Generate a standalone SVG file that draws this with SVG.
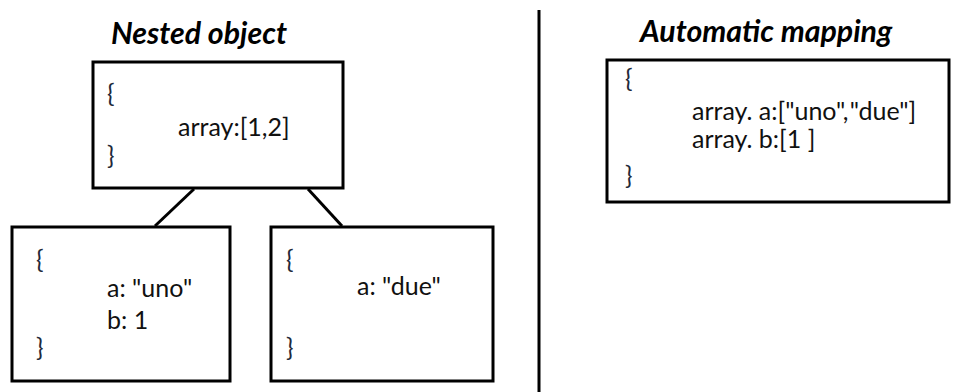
<svg xmlns="http://www.w3.org/2000/svg" width="954" height="392" viewBox="0 0 954 392">
  <style>
    .box { fill: #fff; stroke: #000; stroke-width: 3; }
    .edge { stroke: #000; stroke-width: 3; fill: none; }
    .title { font-family: Lato, "Open Sans", sans-serif; font-weight: bold; font-style: italic; font-size: 30.3px; fill: #000; }
    .code { font-family: Lato, "Open Sans", sans-serif; font-size: 25px; fill: #111; }
    .brace { font-family: Lato, "Open Sans", sans-serif; font-size: 25px; fill: #1f2a3a; }
  </style>
  <rect width="954" height="392" fill="#fff"/>

  <!-- divider between the two panels -->
  <line x1="539" y1="10" x2="539" y2="392" class="edge"/>

  <text class="title" x="111" y="44">Nested object</text>
  <text class="title" x="640" y="42">Automatic mapping</text>

  <g id="connectors">
    <line class="edge" x1="194" y1="189" x2="155" y2="226"/>
    <line class="edge" x1="308" y1="189" x2="342" y2="226"/>
  </g>

  <g id="parent">
    <rect class="box" x="93" y="62" width="250" height="126"/>
    <text class="brace" x="107" y="102">{</text>
    <text class="code" x="178" y="136">array:[1,2]</text>
    <text class="brace" x="107" y="164">}</text>
  </g>

  <g id="child-a">
    <rect class="box" x="12" y="227" width="218" height="154"/>
    <text class="brace" x="36" y="268">{</text>
    <text class="code" x="107" y="297">a: "uno"</text>
    <text class="code" x="107" y="329">b: 1</text>
    <text class="brace" x="36" y="356">}</text>
  </g>

  <g id="child-b">
    <rect class="box" x="271" y="227" width="222" height="154"/>
    <text class="brace" x="286" y="268">{</text>
    <text class="code" x="357" y="295">a: "due"</text>
    <text class="brace" x="286" y="356">}</text>
  </g>

  <g id="mapped">
    <rect class="box" x="607" y="60" width="342" height="142"/>
    <text class="brace" x="625" y="87">{</text>
    <text class="code" x="692" y="120">array. a:["uno",<tspan dx="4">"due"]</tspan></text>
    <text class="code" x="692" y="148">array. b:[1 ]</text>
    <text class="brace" x="625" y="184">}</text>
  </g>
</svg>
